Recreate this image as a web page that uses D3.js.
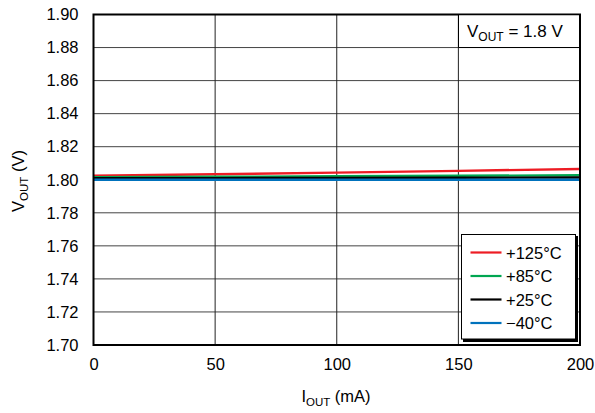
<!DOCTYPE html>
<html><head><meta charset="utf-8">
<script src="https://cdn.jsdelivr.net/npm/d3@7"></script>
<style>body{margin:0;background:#fff}svg{display:block;font-family:"Liberation Sans",Arial,sans-serif}</style>
</head><body><svg id="c" width="595" height="413"></svg>
<script>
const iout = [0, 50, 100, 150, 200];
const v125 = [1.8024, 1.8033, 1.8043, 1.8054, 1.8065];
const v85 = [1.8016, 1.8018, 1.8021, 1.8024, 1.8027];
const v25 = [1.8009, 1.8010, 1.8011, 1.8012, 1.8014];
const vm40 = [1.8000, 1.8000, 1.8000, 1.8000, 1.8000];
const seriesNames = ["+125°C", "+85°C", "+25°C", "\u221240°C"];
const seriesColors = ["#ed1c24", "#00a651", "#000000", "#0072bc"];
const xTicks = [0, 50, 100, 150, 200];
const yTicks = [1.70,1.72,1.74,1.76,1.78,1.80,1.82,1.84,1.86,1.88,1.90];

const FS = 16.5;
const svg = d3.select("#c");
const L=93.5, R=580, T=14.5, B=345;
const x = d3.scaleLinear().domain([0,200]).range([L,R]);
const y = d3.scaleLinear().domain([1.70,1.90]).range([B,T]);

// grid
svg.append("g").selectAll("line").data(yTicks.slice(1,-1)).join("line")
  .attr("x1",L).attr("x2",R).attr("y1",d=>y(d)).attr("y2",d=>y(d))
  .attr("stroke","#444").attr("stroke-width",1);
svg.append("g").selectAll("line").data(xTicks.slice(1,-1)).join("line")
  .attr("y1",T).attr("y2",B).attr("x1",d=>x(d)).attr("x2",d=>x(d))
  .attr("stroke","#222").attr("stroke-width",1);

// axes labels
const ya = svg.append("g").attr("transform",`translate(${L},0)`)
  .call(d3.axisLeft(y).tickValues(yTicks).tickFormat(d3.format(".2f")).tickSize(0).tickPadding(15));
ya.select(".domain").remove();
ya.selectAll("text").attr("font-size",FS).attr("fill","#000").attr("font-family","Liberation Sans, Arial, sans-serif");
const xa = svg.append("g").attr("transform",`translate(0,${B})`)
  .call(d3.axisBottom(x).tickValues(xTicks).tickSize(0).tickPadding(13));
xa.select(".domain").remove();
xa.selectAll("text").attr("font-size",FS).attr("fill","#000").attr("font-family","Liberation Sans, Arial, sans-serif");

// lines
const seriesData = [v125, v85, v25, vm40];
const line = d3.line().x((d,i)=>x(iout[i])).y(d=>y(d));
[0,1,2,3].forEach(k=>{
  svg.append("path").datum(seriesData[k]).attr("d",line)
    .attr("fill","none").attr("stroke",seriesColors[k]).attr("stroke-width",2.4);
});

// frame
svg.append("rect").attr("x",L).attr("y",T).attr("width",R-L).attr("height",B-T)
  .attr("fill","none").attr("stroke","#000").attr("stroke-width",2);

// annotation box
svg.append("rect").attr("x",459).attr("y",T+1).attr("width",R-460).attr("height",32).attr("fill","#fff");
svg.append("path").attr("d",`M${458.5},${T}V${47.5}H${R}`).attr("fill","none").attr("stroke","#000").attr("stroke-width",1);
const at = svg.append("text").attr("x",467).attr("y",37).attr("font-size",17).attr("fill","#000");
at.append("tspan").text("V");
at.append("tspan").text("OUT").attr("font-size",12).attr("dy",4);
at.append("tspan").text(" = 1.8 V").attr("dy",-4);

// legend
const lg = svg.append("g");
lg.append("rect").attr("x",463).attr("y",236).attr("width",115).attr("height",106).attr("fill","#000");
lg.append("rect").attr("x",461.5).attr("y",234.5).attr("width",114).attr("height",104.5).attr("fill","#fff").attr("stroke","#000").attr("stroke-width",1);
const ly = d3.scalePoint().domain(seriesNames).range([252.5,323]);
seriesNames.forEach((n,k)=>{
  lg.append("line").attr("x1",470.5).attr("x2",501.5).attr("y1",ly(n)).attr("y2",ly(n))
    .attr("stroke",seriesColors[k]).attr("stroke-width",2.2);
  lg.append("text").attr("x",506).attr("y",ly(n)+6).attr("font-size",FS).attr("fill","#000").text(n);
});

// axis titles
const xt = svg.append("text").attr("x",336).attr("y",402).attr("text-anchor","middle").attr("font-size",FS).attr("fill","#000");
xt.append("tspan").text("I");
xt.append("tspan").text("OUT").attr("font-size",11.5).attr("dy",4);
xt.append("tspan").text(" (mA)").attr("dy",-4);
const yt = svg.append("text").attr("transform",`translate(24,${181}) rotate(-90)`).attr("text-anchor","middle").attr("font-size",FS).attr("fill","#000");
yt.append("tspan").text("V");
yt.append("tspan").text("OUT").attr("font-size",11.5).attr("dy",4);
yt.append("tspan").text(" (V)").attr("dy",-4);
</script></body></html>
